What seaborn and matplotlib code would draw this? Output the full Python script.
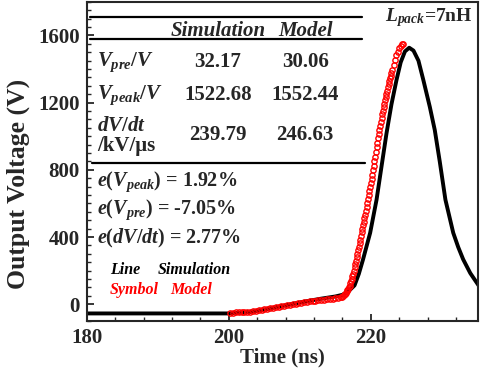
import matplotlib
matplotlib.use("Agg")
import matplotlib.pyplot as plt
import seaborn as sns
from matplotlib.ticker import MultipleLocator

sns.set_style("ticks")
plt.rcParams['font.family'] = ['Liberation Serif', 'DejaVu Serif']
plt.rcParams['font.weight'] = 'bold'
plt.rcParams['mathtext.fontset'] = 'custom'
plt.rcParams['mathtext.rm'] = 'Liberation Serif:bold'
plt.rcParams['mathtext.it'] = 'Liberation Serif:italic:bold'
plt.rcParams['mathtext.bf'] = 'Liberation Serif:bold'

# Simulation (line)
sim_t = [180, 200, 201, 203, 205, 207, 209, 211, 213, 215, 216, 216.8, 217.7,
         218.3, 218.9, 219.9, 220.8, 221.5, 222.2, 222.9, 223.6, 224.2, 224.8,
         225.4, 226.0, 226.7, 227.4, 228.3, 229.0, 229.7, 230.5, 231.6, 232.3,
         233.0, 234.0, 235.2]
sim_v = [-55, -55, -52, -46, -32, -15, 2, 18, 33, 46, 56, 75, 112,
         180, 267, 425, 622, 820, 1017, 1190, 1333, 1440, 1505,
         1527, 1510, 1450, 1333, 1175, 1037, 850, 622, 425, 340,
         267, 185, 110]

# Model (symbols)
mod_t = [200.2, 200.6, 201.0, 201.4, 201.8, 202.2, 202.6, 203.0, 203.4, 203.8,
         204.2, 204.6, 205.0, 205.4, 205.8, 206.2, 206.6, 207.0, 207.4, 207.8,
         208.2, 208.6, 209.0, 209.4, 209.8, 210.2, 210.6, 211.0, 211.4, 211.8,
         212.2, 212.6, 213.0, 213.4, 213.8, 214.2, 214.6, 215.0, 215.4, 215.8,
         216.0, 216.1, 216.2, 216.3, 216.4, 216.5, 216.6, 216.7, 216.8, 216.9,
         217.0, 217.1, 217.2, 217.3, 217.4, 217.5, 217.6, 217.7, 217.8, 217.9,
         218.0, 218.1, 218.2, 218.3, 218.4, 218.5, 218.6, 218.7, 218.8, 218.9,
         219.0, 219.1, 219.2, 219.3, 219.4, 219.5, 219.6, 219.7, 219.8, 219.9,
         220.0, 220.1, 220.2, 220.3, 220.4, 220.5, 220.6, 220.7, 220.8, 220.9,
         221.0, 221.1, 221.2, 221.3, 221.4, 221.5, 221.6, 221.7, 221.8, 221.9,
         222.0, 222.1, 222.2, 222.3, 222.4, 222.5, 222.6, 222.7, 222.8, 222.9,
         223.0, 223.2, 223.4, 223.6, 223.8, 224.0, 224.2, 224.4, 224.55]
mod_v = [-50, -50, -49, -49, -48, -47, -46, -44, -42, -40,
         -37, -34, -31, -28, -24, -21, -18, -15, -12, -9,
         -6, -3, 0, 3, 6, 9, 12, 15, 18, 20,
         22, 24, 26, 28, 30, 32, 33, 35, 38, 42,
         45, 49, 54, 58, 63, 68, 76, 84, 92, 101,
         110, 124, 138, 152, 166, 180, 200, 220, 240, 260,
         280, 301, 322, 343, 364, 385, 406, 427, 448, 469,
         490, 512, 534, 556, 578, 600, 624, 648, 672, 696,
         720, 746, 772, 798, 824, 850, 878, 906, 934, 962,
         990, 1014, 1038, 1062, 1086, 1110, 1131, 1152, 1173, 1194,
         1215, 1234, 1253, 1272, 1291, 1310, 1327, 1344, 1361, 1378,
         1395, 1425, 1455, 1481, 1503, 1525, 1537, 1547, 1551]

x_ticks = [180, 200, 220]
y_ticks = [0, 400, 800, 1200, 1600]

fig = plt.figure(figsize=(4.8, 3.75), dpi=100)
ax = fig.add_axes([0.181, 0.144, 0.815, 0.851])

sns.lineplot(x=sim_t, y=sim_v, ax=ax, color='black', lw=2.8, sort=False)
sns.lineplot(x=mod_t, y=mod_v, ax=ax, color='red', linestyle='none', marker='o',
             markersize=3.8, markerfacecolor='none', markeredgecolor='red',
             markeredgewidth=1.0, sort=False)

ax.set_xlim(180, 235.1)
ax.set_ylim(-100, 1800)
ax.set_xticks(x_ticks)
ax.set_yticks(y_ticks)
ax.xaxis.set_minor_locator(MultipleLocator(4))
ax.yaxis.set_minor_locator(MultipleLocator(50))
ax.tick_params(which='major', direction='in', length=5, width=1.3,
               labelsize=15, top=False, right=False, pad=5)
ax.tick_params(which='minor', direction='in', length=3, width=1.0,
               top=False, right=False)
for lab in ax.get_xticklabels() + ax.get_yticklabels():
    lab.set_fontweight('bold')
for sp in ax.spines.values():
    sp.set_linewidth(1.5)
    sp.set_visible(True)

ax.set_xlabel('Time (ns)', fontsize=15, fontweight='bold', labelpad=0)
ax.set_ylabel('Output Voltage (V)', fontsize=18.5, fontweight='bold')
ax.yaxis.set_label_coords(-0.145, 0.43)

T = ax.transAxes
# table rules
for yy, x0, x1 in [(0.953, 0.008, 0.703), (0.884, 0.008, 0.703), (0.495, 0.012, 0.710)]:
    ax.plot([x0, x1], [yy, yy], transform=T, color='black', lw=1.6)

c1, c2 = 0.335, 0.558
fs = 15
ax.text(c1, 0.909, 'Simulation', transform=T, ha='center', va='center',
        fontsize=fs, fontweight='bold', fontstyle='italic')
ax.text(c2, 0.909, 'Model', transform=T, ha='center', va='center',
        fontsize=fs, fontweight='bold', fontstyle='italic')

ax.text(0.026, 0.812, r'$V_{pre}$/$V$', transform=T, ha='left', va='center', fontsize=fs)
ax.text(c1, 0.812, '32.17', transform=T, ha='center', va='center', fontsize=fs, fontweight='bold')
ax.text(c2, 0.812, '30.06', transform=T, ha='center', va='center', fontsize=fs, fontweight='bold')

ax.text(0.026, 0.708, r'$V_{peak}$/$V$', transform=T, ha='left', va='center', fontsize=fs)
ax.text(c1, 0.708, '1522.68', transform=T, ha='center', va='center', fontsize=fs, fontweight='bold')
ax.text(c2, 0.708, '1552.44', transform=T, ha='center', va='center', fontsize=fs, fontweight='bold')

ax.text(0.026, 0.612, r'$dV/dt$', transform=T, ha='left', va='center', fontsize=fs)
ax.text(0.026, 0.548, '/kV/μs', transform=T, ha='left', va='center', fontsize=fs, fontweight='bold')
ax.text(c1, 0.583, '239.79', transform=T, ha='center', va='center', fontsize=fs, fontweight='bold')
ax.text(c2, 0.583, '246.63', transform=T, ha='center', va='center', fontsize=fs, fontweight='bold')

fe = 14.5
ax.text(0.026, 0.436, r'$e$($V_{peak}$) = 1.92%', transform=T, ha='left', va='center',
        fontsize=fe, fontweight='bold')
ax.text(0.026, 0.348, r'$e$($V_{pre}$) = -7.05%', transform=T, ha='left', va='center',
        fontsize=fe, fontweight='bold')
ax.text(0.026, 0.260, r'$e$($dV/dt$) = 2.77%', transform=T, ha='left', va='center',
        fontsize=fe, fontweight='bold')

ax.text(0.059, 0.160, 'Line', transform=T, ha='left', va='center', fontsize=11.5,
        fontweight='bold', fontstyle='italic', color='black')
ax.text(0.182, 0.160, 'Simulation', transform=T, ha='left', va='center', fontsize=11.5,
        fontweight='bold', fontstyle='italic', color='black')
ax.text(0.059, 0.097, 'Symbol', transform=T, ha='left', va='center', fontsize=11.5,
        fontweight='bold', fontstyle='italic', color='red')
ax.text(0.212, 0.097, 'Model', transform=T, ha='left', va='center', fontsize=11.5,
        fontweight='bold', fontstyle='italic', color='red')

ax.text(0.987, 0.950, r'$L_{pack}$=7nH', transform=T, ha='right', va='center',
        fontsize=14, fontweight='bold')

fig.savefig('out.png', dpi=100)
